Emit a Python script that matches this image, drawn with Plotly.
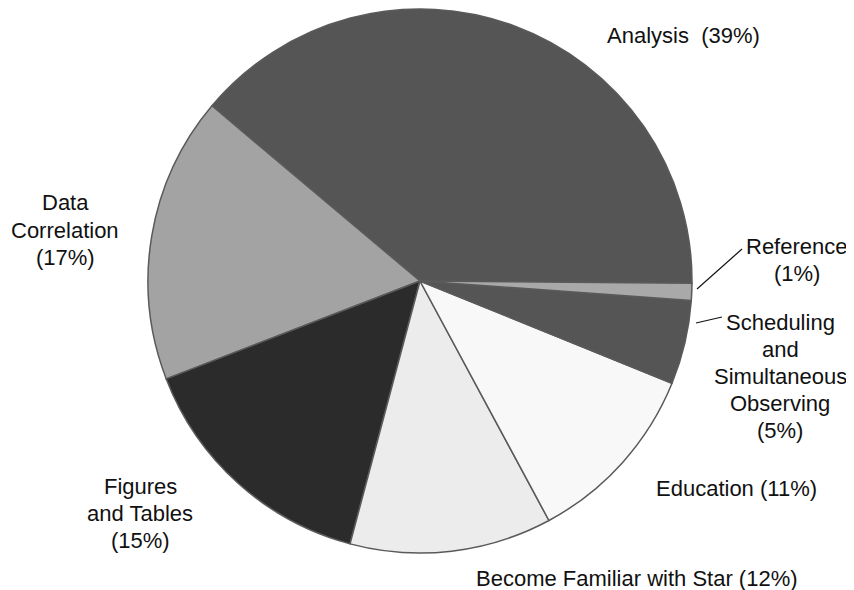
import plotly.graph_objects as go

# ---- data ----
labels = ["Analysis", "Data Correlation", "Figures and Tables",
          "Become Familiar with Star", "Education",
          "Scheduling and Simultaneous Observing", "Reference"]
values = [39, 17, 15, 12, 11, 5, 1]
label_lines = [
    ["Analysis  ({v}%)"],
    ["Data", "Correlation", "({v}%)"],
    ["Figures", "and Tables", "({v}%)"],
    ["Become Familiar with Star ({v}%)"],
    ["Education ({v}%)"],
    ["Scheduling", "and", "Simultaneous", "Observing", "({v}%)"],
    ["Reference", "({v}%)"],
]
colors = ["#555555", "#a3a3a3", "#2b2b2b", "#ececec", "#f8f8f8", "#555555", "#a9a9a9"]

# ---- layout (target screen pixels; page body has an 8px margin) ----
OFF = 8
W, H = 854 - OFF, 590 - OFF
label_pos = [(683, 35), (65, 230), (140, 513), (637, 578), (736, 489), (780, 376), (797, 260)]
LINE_STEP = 27
leaders = [((697, 289), (742, 249)), ((696, 323), (722, 317))]

def px(x, y):
    return (x - OFF) / W, 1 - (y - OFF) / H

cx, cy, r = 420, 281, 272
start_angle = 0.5  # degrees below 3 o'clock where the first slice begins
first_span = 360.0 * values[0] / sum(values)

fig = go.Figure(go.Pie(
    labels=labels,
    values=values,
    sort=False,
    direction="counterclockwise",
    rotation=90 + start_angle - first_span,
    textinfo="none",
    hoverinfo="label+percent",
    marker=dict(colors=colors, line=dict(color="#5a5a5a", width=1.5)),
    domain=dict(x=[(cx - r - OFF) / W, (cx + r - OFF) / W],
                y=[1 - (cy + r - OFF) / H, 1 - (cy - r - OFF) / H]),
    showlegend=False,
))

annotations = []
for lines, v, (x, y) in zip(label_lines, values, label_pos):
    n = len(lines)
    for i, l in enumerate(lines):
        ly = y + (i - (n - 1) / 2) * LINE_STEP
        ax, ay = px(x, ly)
        annotations.append(dict(
            x=ax, y=ay, xref="paper", yref="paper", text=l.format(v=v), showarrow=False,
            xanchor="center", yanchor="middle", align="center",
            font=dict(family="Liberation Sans, Arial, sans-serif", size=22, color="#111111"),
        ))

shapes = []
for (x0, y0), (x1, y1) in leaders:
    a0, b0 = px(x0, y0)
    a1, b1 = px(x1, y1)
    shapes.append(dict(type="line", xref="paper", yref="paper", x0=a0, y0=b0, x1=a1, y1=b1,
                       line=dict(color="#111111", width=1.2)))

fig.update_layout(
    width=W, height=H,
    margin=dict(l=0, r=0, t=0, b=0),
    paper_bgcolor="white", plot_bgcolor="white",
    annotations=annotations, shapes=shapes,
)

fig.write_html("out.html")
